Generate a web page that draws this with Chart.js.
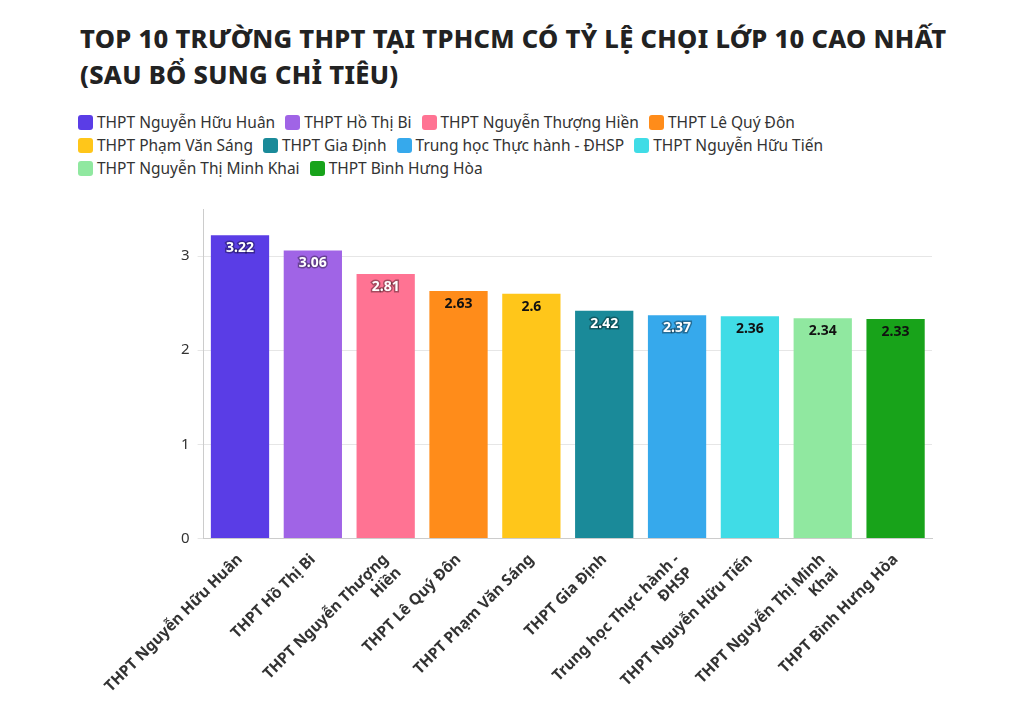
<!DOCTYPE html>
<html>
<head>
<meta charset="utf-8">
<script src="https://cdn.jsdelivr.net/npm/chart.js@4"></script>
<style>
  body { margin: 0; background: #fff; font-family: "Noto Sans", sans-serif; }
  h1 { position: absolute; left: 80px; top: 20px; margin: 0; font-size: 25.5px; line-height: 36px; font-weight: 800; color: #222; letter-spacing: 0.3px; }
  #legend { position: absolute; left: 78px; top: 111px; width: 880px; font-size: 15.5px; color: #333; line-height: 23px; }
  .item { display: inline-block; margin-right: 10px; white-space: nowrap; }
  .sw { display: inline-block; width: 15px; height: 15px; border-radius: 3px; vertical-align: -2px; margin-right: 4px; }
  #wrap { position: absolute; left: 0; top: 192px; width: 1020px; height: 521px; }
</style>
</head>
<body>
<h1>TOP 10 TRƯỜNG THPT TẠI TPHCM CÓ TỶ LỆ CHỌI LỚP 10 CAO NHẤT<br>(SAU BỔ SUNG CHỈ TIÊU)</h1>
<div id="legend"></div>
<div id="wrap"><canvas id="c"></canvas></div>
<script>
const schools = ["THPT Nguyễn Hữu Huân", "THPT Hồ Thị Bi", "THPT Nguyễn Thượng Hiền", "THPT Lê Quý Đôn",
    "THPT Phạm Văn Sáng", "THPT Gia Định", "Trung học Thực hành - ĐHSP", "THPT Nguyễn Hữu Tiến",
    "THPT Nguyễn Thị Minh Khai", "THPT Bình Hưng Hòa"];
const axisLabels = ["THPT Nguyễn Hữu Huân", "THPT Hồ Thị Bi", ["THPT Nguyễn Thượng", "Hiền"], "THPT Lê Quý Đôn",
    "THPT Phạm Văn Sáng", "THPT Gia Định", ["Trung học Thực hành -", "ĐHSP"], "THPT Nguyễn Hữu Tiến",
    ["THPT Nguyễn Thị Minh", "Khai"], "THPT Bình Hưng Hòa"];
const ratios = [3.22, 3.06, 2.81, 2.63, 2.6, 2.42, 2.37, 2.36, 2.34, 2.33];
const colors = ["#5a3de6", "#a064e6", "#ff7393", "#ff8c1a", "#ffc61a", "#1a8a99", "#36a9ec", "#40dce6", "#90e8a0", "#18a31a"];
const labelDark = [false, false, false, true, true, false, false, true, true, true];
const yTicks = [0, 1, 2, 3];

const legend = document.getElementById("legend");
const rows = [[0, 1, 2, 3], [4, 5, 6, 7], [8, 9]];
rows.forEach(r => {
    const div = document.createElement("div");
    r.forEach(i => {
        const s = document.createElement("span");
        s.className = "item";
        s.innerHTML = `<span class="sw" style="background:${colors[i]}"></span>`;
        s.appendChild(document.createTextNode(schools[i]));
        div.appendChild(s);
    });
    legend.appendChild(div);
});

const valueLabels = {
    id: "valueLabels",
    afterDatasetsDraw(chart) {
        const ctx = chart.ctx;
        const meta = chart.getDatasetMeta(0);
        ctx.save();
        ctx.font = "bold 14px 'Noto Sans'";
        ctx.textAlign = "center";
        ctx.textBaseline = "middle";
        meta.data.forEach((bar, i) => {
            const y = bar.y + 13;
            if (labelDark[i]) {
                ctx.fillStyle = "#111";
            } else {
                ctx.lineWidth = 3;
                ctx.strokeStyle = "rgba(0,0,0,0.35)";
                ctx.strokeText(String(ratios[i]), bar.x, y);
                ctx.fillStyle = "#fff";
            }
            ctx.fillText(String(ratios[i]), bar.x, y);
        });
        ctx.restore();
    }
};

new Chart(document.getElementById("c"), {
    type: "bar",
    data: {
        labels: axisLabels,
        datasets: [{ data: ratios, backgroundColor: colors, categoryPercentage: 1, barPercentage: 0.8 }]
    },
    options: {
        responsive: true,
        maintainAspectRatio: false,
        animation: false,
        layout: { padding: { left: 173, right: 88, top: 15 } },
        plugins: { legend: { display: false }, tooltip: { enabled: false } },
        scales: {
            x: {
                grid: { display: false },
                border: { color: "#ccc" },
                ticks: { maxRotation: 45, minRotation: 45, color: "#333", font: { family: "Noto Sans", size: 15.5, weight: "bold" }, padding: 4 }
            },
            y: {
                min: 0, max: 3.5,
                afterBuildTicks: axis => { axis.ticks = yTicks.map(v => ({ value: v })); },
                grid: { color: "#e6e6e6", drawTicks: true, tickLength: 6 },
                border: { display: true, color: "#ccc" },
                ticks: { color: "#333", font: { family: "Noto Sans", size: 15 }, padding: 8 }
            }
        }
    },
    plugins: [valueLabels]
});
</script>
</body>
</html>
